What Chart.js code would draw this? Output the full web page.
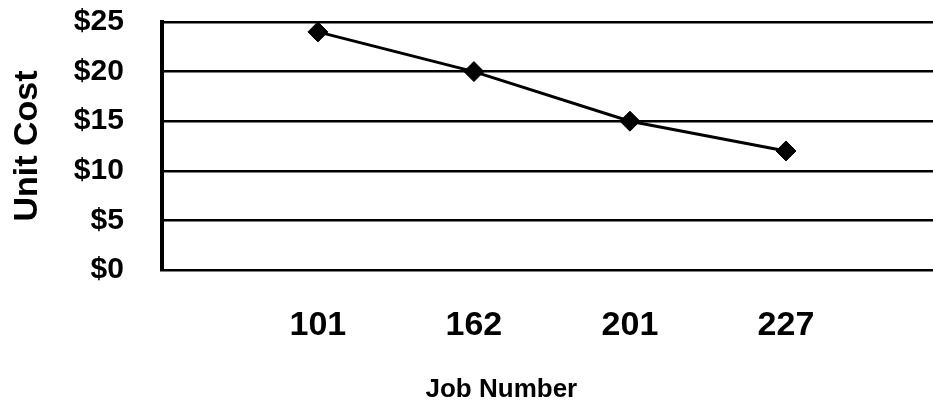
<!DOCTYPE html>
<html>
<head>
<meta charset="utf-8">
<script src="https://cdn.jsdelivr.net/npm/chart.js@4"></script>
<style>
  html, body { margin: 0; padding: 0; background: #fff; overflow: hidden; }
  body { width: 933px; height: 406px; }
  #wrap { width: 942px; height: 406px; }
</style>
</head>
<body>
<div id="wrap"><canvas id="chart"></canvas></div>
<script>
const jobNumbers = ['101', '162', '201', '227']
const unitCost = [24, 20, 15, 12]
const costTicks = [0, 5, 10, 15, 20, 25]

// empty slots on both ends so the jobs sit one step in from the axis
const labels = ['', ...jobNumbers, '']
const values = [null, ...unitCost, null]

const font = 'Liberation Sans, Arial, Helvetica, sans-serif'
const clear = 'rgba(0,0,0,0)'

new Chart(document.getElementById('chart'), {
  type: 'line',
  data: {
    labels,
    datasets: [{
      data: values,
      borderColor: '#000',
      borderWidth: 3,
      pointStyle: 'rectRot',
      pointRadius: 10,
      pointBackgroundColor: '#000',
      pointBorderColor: '#000',
      pointBorderWidth: 1,
      tension: 0
    }]
  },
  options: {
    responsive: true,
    maintainAspectRatio: false,
    animation: false,
    events: [],
    layout: { autoPadding: false, padding: { top: 22, left: 7, right: 0, bottom: 1 } },
    plugins: {
      legend: { display: false },
      tooltip: { enabled: false }
    },
    scales: {
      x: {
        offset: false,
        // invisible tick marks only used to push the labels down
        grid: { display: true, color: clear, tickColor: clear, drawTicks: true, tickLength: 35 },
        border: { display: false },
        ticks: {
          color: '#000',
          padding: 0,
          maxRotation: 0,
          autoSkip: false,
          font: { family: font, size: 34, weight: 'bold' }
        },
        title: {
          display: true,
          // trailing spaces pull the centred title left, as in the original
          text: 'Job Number' + ' '.repeat(14),
          color: '#000',
          padding: { top: 28, bottom: 0 },
          font: { family: font, size: 26, weight: 'bold' }
        }
      },
      y: {
        min: 0,
        max: 25,
        afterBuildTicks: (scale) => { scale.ticks = costTicks.map(v => ({ value: v })) },
        grid: { color: '#000', lineWidth: 2.5, drawTicks: true, tickLength: 38, tickColor: clear },
        border: { display: true, color: '#000', width: 4 },
        ticks: {
          color: '#000',
          padding: 0,
          autoSkip: false,
          callback: (v) => '$' + v,
          font: { family: font, size: 30, weight: 'bold' }
        },
        title: {
          display: true,
          text: 'Unit Cost',
          color: '#000',
          padding: { top: 0, bottom: 26 },
          font: { family: font, size: 34, weight: 'bold' }
        }
      }
    }
  }
})
</script>
</body>
</html>
